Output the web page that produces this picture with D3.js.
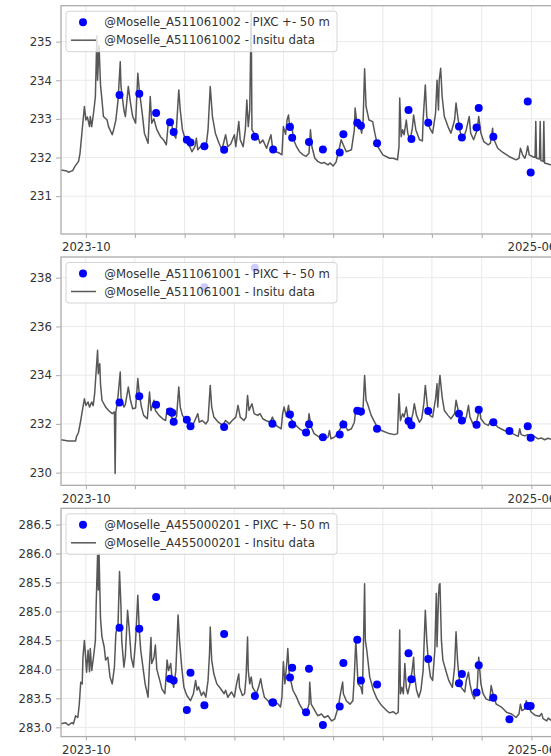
<!DOCTYPE html>
<html>
<head>
<meta charset="utf-8">
<script src="https://cdn.jsdelivr.net/npm/d3@7"></script>
<style>
  html, body { margin: 0; padding: 0; background: #fff; overflow: hidden; }
  svg { display: block; }
  text { font-family: "DejaVu Sans", sans-serif; }
</style>
</head>
<body>
<svg id="chart" width="551" height="756"></svg>
<script>
// ---------------- data ----------------
const stations = ["@Moselle_A511061002", "@Moselle_A511061001", "@Moselle_A455000201"];
const pixcLabel = " - PIXC +- 50 m";
const insituLabel = " - Insitu data";

const xStart = "2023-08-28";
const xEnd = "2025-07-06";
const xTickDates = ["2023-10-01", "2023-12-07", "2024-02-13", "2024-04-21", "2024-06-27",
                    "2024-09-03", "2024-11-10", "2025-01-16", "2025-03-25", "2025-06-01"];
const xTickLabels = ["2023-10", "", "", "", "", "", "", "", "", "2025-06"];

const yTicks1 = [231, 232, 233, 234, 235];
const yTicks2 = [230, 232, 234, 236, 238];
const yTicks3 = [283.0, 283.5, 284.0, 284.5, 285.0, 285.5, 286.0, 286.5];
const yLimits1 = [230.02, 235.93];
const yLimits2 = [229.48, 238.85];
const yLimits3 = [282.84, 286.78];

// in-situ gauge water level (m)
const insitu1 = [
  ["2023-08-28",231.68],["2023-09-05",231.65],["2023-09-07",231.62],["2023-09-13",231.66],
  ["2023-09-16",231.77],["2023-09-21",231.90],["2023-09-23",232.11],["2023-09-26",232.72],
  ["2023-09-29",233.32],["2023-10-01",232.97],["2023-10-03",233.05],["2023-10-06",232.80],
  ["2023-10-07",233.06],["2023-10-09",232.80],["2023-10-12",233.23],["2023-10-14",233.58],
  ["2023-10-16",235.15],["2023-10-17",234.00],["2023-10-19",234.90],["2023-10-21",233.88],
  ["2023-10-23",233.49],["2023-10-25",233.06],["2023-10-30",232.97],["2023-11-01",232.80],
  ["2023-11-06",232.59],["2023-11-08",232.72],["2023-11-11",232.97],["2023-11-14",233.49],
  ["2023-11-17",234.48],["2023-11-18",233.84],["2023-11-22",233.23],["2023-11-24",233.06],
  ["2023-11-28",233.84],["2023-12-01",233.41],["2023-12-04",233.06],["2023-12-08",232.89],
  ["2023-12-11",234.18],["2023-12-13",233.75],["2023-12-17",233.15],["2023-12-20",232.63],
  ["2023-12-25",232.37],["2023-12-28",233.58],["2023-12-30",232.89],["2024-01-02",233.00],
  ["2024-01-06",232.72],["2024-01-11",232.54],["2024-01-15",232.46],["2024-01-19",232.33],
  ["2024-01-22",232.97],["2024-01-26",232.89],["2024-01-29",232.59],["2024-02-01",232.50],
  ["2024-02-05",233.75],["2024-02-07",233.23],["2024-02-10",232.72],["2024-02-14",232.46],
  ["2024-02-19",232.33],["2024-02-23",232.15],["2024-02-27",232.28],["2024-02-29",232.50],
  ["2024-03-02",232.20],["2024-03-08",232.33],["2024-03-13",232.24],["2024-03-16",232.72],
  ["2024-03-19",233.84],["2024-03-22",233.06],["2024-03-26",232.63],["2024-03-31",232.37],
  ["2024-04-04",232.20],["2024-04-09",232.59],["2024-04-12",232.28],["2024-04-16",232.35],
  ["2024-04-21",232.59],["2024-04-23",232.28],["2024-04-27",232.93],["2024-04-29",232.46],
  ["2024-05-03",232.28],["2024-05-06",232.72],["2024-05-08",233.49],["2024-05-10",232.80],
  ["2024-05-12",233.23],["2024-05-14",235.74],["2024-05-15",232.72],["2024-05-19",232.59],
  ["2024-05-23",232.55],["2024-05-26",232.37],["2024-05-30",232.45],["2024-06-04",232.24],
  ["2024-06-10",232.59],["2024-06-12",232.28],["2024-06-17",232.15],["2024-06-22",232.11],
  ["2024-06-25",232.07],["2024-06-27",232.80],["2024-06-30",232.60],["2024-07-02",232.97],
  ["2024-07-04",233.10],["2024-07-06",232.72],["2024-07-08",232.89],["2024-07-11",232.46],
  ["2024-07-15",232.28],["2024-07-19",232.15],["2024-07-24",232.07],["2024-07-28",232.03],
  ["2024-08-01",232.11],["2024-08-03",232.72],["2024-08-05",232.28],["2024-08-09",231.98],
  ["2024-08-13",231.90],["2024-08-18",231.85],["2024-08-22",231.87],["2024-08-27",231.81],
  ["2024-08-30",231.86],["2024-09-03",231.78],["2024-09-07",231.88],["2024-09-11",232.20],
  ["2024-09-14",232.46],["2024-09-18",232.28],["2024-09-21",232.15],["2024-09-28",232.20],
  ["2024-10-02",232.72],["2024-10-03",233.28],["2024-10-06",232.80],["2024-10-08",232.97],
  ["2024-10-12",232.63],["2024-10-14",232.97],["2024-10-16",234.30],["2024-10-18",233.32],
  ["2024-10-22",232.97],["2024-10-27",232.93],["2024-10-30",232.63],["2024-11-03",232.28],
  ["2024-11-10",232.07],["2024-11-19",231.98],["2024-11-24",231.98],["2024-11-30",231.94],
  ["2024-12-02",232.28],["2024-12-03",233.54],["2024-12-05",232.54],["2024-12-07",232.72],
  ["2024-12-09",232.59],["2024-12-12",232.97],["2024-12-14",232.63],["2024-12-17",232.46],
  ["2024-12-20",232.72],["2024-12-22",233.10],["2024-12-25",232.72],["2024-12-30",232.46],
  ["2025-01-03",232.43],["2025-01-04",232.97],["2025-01-07",233.88],["2025-01-09",233.06],
  ["2025-01-13",232.76],["2025-01-17",232.63],["2025-01-21",233.15],["2025-01-23",234.00],
  ["2025-01-25",233.23],["2025-01-26",234.00],["2025-01-28",234.31],["2025-01-30",233.58],
  ["2025-02-02",233.06],["2025-02-07",232.80],["2025-02-11",232.63],["2025-02-16",232.97],
  ["2025-02-18",233.41],["2025-02-21",232.97],["2025-02-24",232.63],["2025-02-28",232.50],
  ["2025-03-04",232.72],["2025-03-08",233.06],["2025-03-10",232.63],["2025-03-14",232.46],
  ["2025-03-19",232.72],["2025-03-21",233.06],["2025-03-24",232.63],["2025-03-28",232.41],
  ["2025-04-03",232.33],["2025-04-06",232.37],["2025-04-09",232.76],["2025-04-10",232.50],
  ["2025-04-16",232.24],["2025-04-23",232.13],["2025-05-02",232.02],["2025-05-11",231.94],
  ["2025-05-15",231.98],["2025-05-17",232.24],["2025-05-20",232.07],["2025-05-23",231.98],
  ["2025-05-25",232.10],["2025-05-27",232.30],["2025-05-29",232.07],["2025-06-03",232.02],
  ["2025-06-06",232.00],["2025-06-07",232.93],["2025-06-08",231.98],["2025-06-12",231.96],
  ["2025-06-13",232.93],["2025-06-14",231.92],["2025-06-17",231.90],["2025-06-18",232.93],
  ["2025-06-19",231.86],["2025-06-23",231.84],["2025-06-27",231.81],["2025-07-01",231.84],
  ["2025-07-06",231.82]
];

const insitu2 = [
  ["2023-08-28",231.35],["2023-09-07",231.30],["2023-09-17",231.30],["2023-09-18",231.46],
  ["2023-09-21",231.66],["2023-09-24",232.14],["2023-09-27",232.69],["2023-09-29",233.03],
  ["2023-10-01",232.76],["2023-10-04",232.90],["2023-10-06",232.69],["2023-10-09",232.90],
  ["2023-10-11",232.75],["2023-10-13",233.24],["2023-10-17",235.02],["2023-10-18",234.06],
  ["2023-10-20",234.47],["2023-10-21",233.65],["2023-10-23",232.97],["2023-10-28",232.69],
  ["2023-11-01",232.55],["2023-11-06",232.42],["2023-11-09",232.49],["2023-11-10",229.96],
  ["2023-11-11",232.50],["2023-11-13",232.83],["2023-11-17",234.13],["2023-11-18",233.10],
  ["2023-11-22",232.69],["2023-11-24",232.80],["2023-11-28",233.51],["2023-12-01",232.97],
  ["2023-12-04",232.62],["2023-12-08",232.65],["2023-12-11",233.86],["2023-12-13",233.24],
  ["2023-12-16",232.69],["2023-12-19",232.35],["2023-12-24",232.21],["2023-12-27",233.31],
  ["2023-12-29",232.55],["2024-01-02",232.97],["2024-01-04",232.55],["2024-01-09",232.35],
  ["2024-01-14",232.21],["2024-01-18",232.14],["2024-01-20",232.62],["2024-01-25",232.35],
  ["2024-01-29",232.14],["2024-02-02",232.30],["2024-02-05",233.51],["2024-02-07",232.69],
  ["2024-02-10",232.35],["2024-02-15",232.14],["2024-02-19",232.00],["2024-02-24",231.94],
  ["2024-02-27",232.14],["2024-03-02",232.42],["2024-03-04",232.07],["2024-03-08",232.14],
  ["2024-03-13",232.00],["2024-03-16",232.14],["2024-03-19",233.58],["2024-03-21",232.69],
  ["2024-03-24",232.28],["2024-03-30",232.07],["2024-04-05",231.94],["2024-04-09",232.14],
  ["2024-04-14",232.00],["2024-04-18",232.14],["2024-04-23",232.28],["2024-04-26",232.76],
  ["2024-04-29",232.28],["2024-05-04",232.14],["2024-05-07",232.28],["2024-05-09",233.17],
  ["2024-05-11",232.55],["2024-05-15",232.83],["2024-05-18",232.42],["2024-05-23",232.35],
  ["2024-05-26",232.42],["2024-05-30",232.21],["2024-06-03",232.14],["2024-06-09",232.07],
  ["2024-06-12",232.28],["2024-06-17",231.94],["2024-06-24",231.80],["2024-06-26",232.42],
  ["2024-06-28",232.69],["2024-07-01",232.30],["2024-07-04",232.76],["2024-07-06",232.30],
  ["2024-07-10",232.07],["2024-07-14",231.94],["2024-07-19",231.80],["2024-07-26",231.66],
  ["2024-07-30",231.73],["2024-08-01",232.42],["2024-08-04",231.87],["2024-08-08",231.60],
  ["2024-08-15",231.46],["2024-08-22",231.39],["2024-08-27",231.46],["2024-08-29",231.73],
  ["2024-08-31",231.39],["2024-09-05",231.46],["2024-09-09",231.60],["2024-09-14",231.87],
  ["2024-09-16",232.14],["2024-09-19",231.94],["2024-09-23",231.73],["2024-09-28",231.80],
  ["2024-10-02",232.07],["2024-10-04",232.62],["2024-10-07",232.42],["2024-10-09",232.62],
  ["2024-10-11",232.35],["2024-10-14",232.69],["2024-10-16",233.99],["2024-10-18",232.97],
  ["2024-10-20",232.83],["2024-10-25",232.35],["2024-11-01",231.94],["2024-11-08",231.73],
  ["2024-11-17",231.62],["2024-11-26",231.56],["2024-11-30",231.60],["2024-12-02",233.24],
  ["2024-12-04",232.14],["2024-12-07",232.42],["2024-12-09",232.28],["2024-12-12",232.69],
  ["2024-12-14",232.28],["2024-12-18",232.07],["2024-12-21",232.42],["2024-12-23",232.83],
  ["2024-12-26",232.35],["2024-12-30",232.07],["2025-01-02",232.21],["2025-01-05",232.83],
  ["2025-01-07",233.58],["2025-01-10",232.69],["2025-01-13",232.35],["2025-01-17",232.28],
  ["2025-01-21",233.03],["2025-01-23",233.65],["2025-01-24",232.69],["2025-01-26",233.65],
  ["2025-01-27",233.99],["2025-01-30",233.10],["2025-02-02",232.55],["2025-02-07",232.35],
  ["2025-02-11",232.21],["2025-02-16",232.42],["2025-02-18",232.97],["2025-02-21",232.55],
  ["2025-02-24",232.21],["2025-03-01",232.07],["2025-03-04",232.28],["2025-03-07",232.76],
  ["2025-03-09",232.28],["2025-03-13",232.01],["2025-03-18",232.07],["2025-03-22",232.62],
  ["2025-03-24",232.21],["2025-03-29",232.01],["2025-04-03",231.94],["2025-04-07",232.14],
  ["2025-04-10",232.07],["2025-04-16",231.87],["2025-04-25",231.73],["2025-05-05",231.62],
  ["2025-05-14",231.49],["2025-05-16",231.80],["2025-05-18",231.56],["2025-05-23",231.51],
  ["2025-05-27",231.56],["2025-06-01",231.46],["2025-06-05",231.49],["2025-06-10",231.39],
  ["2025-06-15",231.42],["2025-06-19",231.35],["2025-06-24",231.41],["2025-06-30",231.35],
  ["2025-07-06",231.36]
];

const insitu3 = [
  ["2023-08-28",283.06],["2023-09-03",283.08],["2023-09-07",283.04],["2023-09-12",283.08],
  ["2023-09-14",283.06],["2023-09-17",283.20],["2023-09-20",283.17],["2023-09-22",283.40],
  ["2023-09-24",283.78],["2023-09-26",283.75],["2023-09-27",284.21],["2023-09-29",284.50],
  ["2023-09-30",284.33],["2023-10-02",283.95],["2023-10-04",284.33],["2023-10-06",283.96],
  ["2023-10-07",284.36],["2023-10-09",283.98],["2023-10-12",284.27],["2023-10-14",284.50],
  ["2023-10-15",285.08],["2023-10-17",285.98],["2023-10-18",285.37],["2023-10-19",286.00],
  ["2023-10-21",284.88],["2023-10-23",284.56],["2023-10-26",284.39],["2023-10-28",284.16],
  ["2023-10-31",284.21],["2023-11-03",283.87],["2023-11-06",283.75],["2023-11-09",284.04],
  ["2023-11-11",284.62],["2023-11-14",284.79],["2023-11-16",285.69],["2023-11-18",285.08],
  ["2023-11-19",284.50],["2023-11-22",284.04],["2023-11-24",284.24],["2023-11-27",285.02],
  ["2023-11-29",284.73],["2023-12-02",284.21],["2023-12-05",284.04],["2023-12-08",284.50],
  ["2023-12-11",285.28],["2023-12-13",284.68],["2023-12-15",284.33],["2023-12-18",284.04],
  ["2023-12-21",283.75],["2023-12-25",283.52],["2023-12-27",284.10],["2023-12-29",284.55],
  ["2023-12-30",284.10],["2024-01-02",284.20],["2024-01-04",284.42],["2024-01-06",284.00],
  ["2024-01-10",283.81],["2024-01-13",283.66],["2024-01-17",283.58],["2024-01-19",283.95],
  ["2024-01-20",284.16],["2024-01-22",283.98],["2024-01-25",284.10],["2024-01-27",283.81],
  ["2024-01-29",283.69],["2024-02-01",283.98],["2024-02-04",284.94],["2024-02-06",284.50],
  ["2024-02-09",284.04],["2024-02-12",283.69],["2024-02-16",283.55],["2024-02-21",283.46],
  ["2024-02-25",283.58],["2024-02-28",283.81],["2024-03-01",283.64],["2024-03-03",283.70],
  ["2024-03-07",283.55],["2024-03-10",283.61],["2024-03-13",283.52],["2024-03-16",283.81],
  ["2024-03-18",284.27],["2024-03-19",284.73],["2024-03-21",284.16],["2024-03-24",283.92],
  ["2024-03-28",283.75],["2024-04-02",283.67],["2024-04-07",283.58],["2024-04-09",283.64],
  ["2024-04-12",283.52],["2024-04-17",283.61],["2024-04-21",283.52],["2024-04-24",283.75],
  ["2024-04-27",283.92],["2024-04-28",283.69],["2024-05-02",283.55],["2024-05-05",283.58],
  ["2024-05-07",283.87],["2024-05-09",284.56],["2024-05-10",283.98],["2024-05-12",283.75],
  ["2024-05-14",283.87],["2024-05-16",283.69],["2024-05-21",283.58],["2024-05-24",283.69],
  ["2024-05-27",283.84],["2024-05-29",283.69],["2024-06-01",283.52],["2024-06-06",283.46],
  ["2024-06-10",283.40],["2024-06-15",283.43],["2024-06-20",283.40],["2024-06-23",283.35],
  ["2024-06-25",283.52],["2024-06-27",284.13],["2024-06-29",283.75],["2024-07-02",284.16],
  ["2024-07-03",284.36],["2024-07-05",283.92],["2024-07-07",283.81],["2024-07-10",283.64],
  ["2024-07-15",283.52],["2024-07-19",283.40],["2024-07-24",283.29],["2024-07-28",283.23],
  ["2024-08-01",283.40],["2024-08-02",283.78],["2024-08-04",283.40],["2024-08-09",283.29],
  ["2024-08-13",283.20],["2024-08-18",283.23],["2024-08-22",283.17],["2024-08-27",283.20],
  ["2024-09-01",283.11],["2024-09-05",283.14],["2024-09-10",283.35],["2024-09-13",283.58],
  ["2024-09-16",283.78],["2024-09-17",283.58],["2024-09-21",283.46],["2024-09-26",283.40],
  ["2024-09-30",283.46],["2024-10-02",283.90],["2024-10-04",284.50],["2024-10-06",284.00],
  ["2024-10-07",283.75],["2024-10-11",283.69],["2024-10-13",283.58],["2024-10-15",284.79],
  ["2024-10-16",285.48],["2024-10-17",284.50],["2024-10-19",284.33],["2024-10-23",283.87],
  ["2024-10-28",283.64],["2024-11-02",283.49],["2024-11-08",283.38],["2024-11-15",283.29],
  ["2024-11-19",283.25],["2024-11-24",283.27],["2024-11-28",283.23],["2024-12-01",283.26],
  ["2024-12-03",284.68],["2024-12-04",283.58],["2024-12-06",283.69],["2024-12-08",283.58],
  ["2024-12-10",284.10],["2024-12-12",283.69],["2024-12-14",283.58],["2024-12-17",283.75],
  ["2024-12-20",283.98],["2024-12-22",284.21],["2024-12-23",283.92],["2024-12-26",283.64],
  ["2024-12-29",283.52],["2025-01-01",283.64],["2025-01-04",283.98],["2025-01-05",284.33],
  ["2025-01-07",285.02],["2025-01-09",284.50],["2025-01-11",284.16],["2025-01-14",283.87],
  ["2025-01-17",283.81],["2025-01-20",284.33],["2025-01-22",285.31],["2025-01-23",284.39],
  ["2025-01-25",285.25],["2025-01-26",285.46],["2025-01-27",285.48],["2025-01-29",284.50],
  ["2025-01-31",284.16],["2025-02-04",283.98],["2025-02-08",283.81],["2025-02-13",283.69],
  ["2025-02-16",284.04],["2025-02-18",284.65],["2025-02-20",284.16],["2025-02-22",283.87],
  ["2025-02-25",283.69],["2025-03-02",283.61],["2025-03-04",283.81],["2025-03-07",283.95],
  ["2025-03-09",283.75],["2025-03-12",283.58],["2025-03-15",283.49],["2025-03-19",283.69],
  ["2025-03-21",284.21],["2025-03-24",283.75],["2025-03-27",283.58],["2025-03-31",283.49],
  ["2025-04-05",283.46],["2025-04-07",283.72],["2025-04-10",283.55],["2025-04-14",283.40],
  ["2025-04-21",283.35],["2025-04-28",283.26],["2025-05-05",283.23],["2025-05-11",283.17],
  ["2025-05-15",283.23],["2025-05-17",283.40],["2025-05-19",283.29],["2025-05-23",283.32],
  ["2025-05-25",283.46],["2025-05-28",283.35],["2025-06-01",283.26],["2025-06-06",283.21],
  ["2025-06-12",283.19],["2025-06-15",283.24],["2025-06-17",283.15],["2025-06-22",283.11],
  ["2025-06-24",283.16],["2025-06-30",283.10],["2025-07-06",283.09]
];

// PIXC water surface elevation within 50 m of the gauge (m)
const pixc1 = [
  ["2023-11-16",233.62],["2023-12-13",233.65],["2024-01-05",233.15],["2024-01-24",232.91],
  ["2024-01-29",232.66],["2024-02-16",232.46],["2024-02-21",232.39],["2024-03-11",232.29],
  ["2024-04-07",232.20],["2024-05-19",232.54],["2024-06-13",232.21],["2024-07-06",232.79],
  ["2024-07-09",232.51],["2024-08-01",232.40],["2024-08-20",232.21],["2024-09-12",232.13],
  ["2024-09-17",232.60],["2024-10-06",232.90],["2024-10-11",232.82],["2024-11-02",232.37],
  ["2024-12-15",233.23],["2024-12-19",232.48],["2025-01-11",232.90],["2025-02-22",232.80],
  ["2025-02-26",232.52],["2025-03-18",232.78],["2025-03-21",233.28],["2025-04-10",232.54],
  ["2025-05-27",233.45],["2025-05-31",231.61]
];

const pixc2 = [
  ["2023-11-16",232.88],["2023-12-13",233.13],["2024-01-05",232.79],["2024-01-24",232.51],
  ["2024-01-27",232.46],["2024-01-29",232.09],["2024-02-16",232.17],["2024-02-21",231.90],
  ["2024-03-11",237.61],["2024-04-07",231.87],["2024-05-19",238.41],["2024-06-12",232.01],
  ["2024-07-06",232.39],["2024-07-09",231.98],["2024-07-28",231.65],["2024-08-01",231.99],
  ["2024-08-20",231.45],["2024-09-12",231.56],["2024-09-17",231.98],["2024-10-06",232.54],
  ["2024-10-11",232.51],["2024-11-02",231.80],["2024-12-15",232.12],["2024-12-19",231.94],
  ["2025-01-11",232.53],["2025-02-22",232.42],["2025-02-26",232.14],["2025-03-18",231.97],
  ["2025-03-21",232.58],["2025-04-10",232.07],["2025-05-02",231.71],["2025-05-27",231.90],
  ["2025-05-31",231.43]
];

const pixc3 = [
  ["2023-11-16",284.72],["2023-12-13",284.70],["2024-01-05",285.25],["2024-01-24",283.84],
  ["2024-01-29",283.81],["2024-02-16",283.30],["2024-02-21",283.94],["2024-03-11",283.38],
  ["2024-04-07",284.61],["2024-05-19",283.54],["2024-06-12",283.43],["2024-06-13",283.43],
  ["2024-07-06",283.86],["2024-07-09",284.03],["2024-07-28",283.26],["2024-08-01",284.01],
  ["2024-08-20",283.04],["2024-09-12",283.36],["2024-09-17",284.11],["2024-10-06",284.51],
  ["2024-10-11",283.81],["2024-11-02",283.74],["2024-12-15",284.28],["2024-12-19",283.83],
  ["2025-01-11",284.18],["2025-02-22",283.76],["2025-02-26",283.92],["2025-03-18",283.60],
  ["2025-03-21",284.07],["2025-04-10",283.51],["2025-05-02",283.14],["2025-05-27",283.37],
  ["2025-05-31",283.37]
];

// ---------------- drawing ----------------
const parse = d3.utcParse("%Y-%m-%d");

const panels = [
  { name: stations[0], insitu: insitu1, pixc: pixc1, ticks: yTicks1, limits: yLimits1, fmt: d3.format("d") },
  { name: stations[1], insitu: insitu2, pixc: pixc2, ticks: yTicks2, limits: yLimits2, fmt: d3.format("d") },
  { name: stations[2], insitu: insitu3, pixc: pixc3, ticks: yTicks3, limits: yLimits3, fmt: d3.format(".1f") }
];

const svg = d3.select("#chart");
const left = 61, right = 557, firstTop = 5.7, step = 251.3, plotH = 228.3;
const fontSize = 11.7;
const frameColor = "#ababab";
const gridColor = "#e9e9e9";
const textColor = "#333";
const lineColor = "#3a3a3a";

const x = d3.scaleUtc()
  .domain([parse(xStart), parse(xEnd)])
  .range([left, right]);

panels.forEach((p, i) => {
  const top = firstTop + i * step;
  const bottom = top + plotH;
  const y = d3.scaleLinear().domain(p.limits).range([bottom, top]);

  const g = svg.append("g");

  // clip to the axes box
  const clipId = "clip" + i;
  svg.append("defs").append("clipPath").attr("id", clipId)
    .append("rect").attr("x", left).attr("y", top).attr("width", right - left).attr("height", plotH);

  // grid
  const grid = g.append("g");
  grid.selectAll("line.gx").data(xTickDates).join("line")
    .attr("x1", d => x(parse(d))).attr("x2", d => x(parse(d)))
    .attr("y1", top).attr("y2", bottom)
    .attr("stroke", gridColor).attr("stroke-width", 1);
  grid.selectAll("line.gy").data(p.ticks).join("line")
    .attr("x1", left).attr("x2", right)
    .attr("y1", d => y(d)).attr("y2", d => y(d))
    .attr("stroke", gridColor).attr("stroke-width", 1);

  const plot = g.append("g").attr("clip-path", `url(#${clipId})`);

  // in-situ series
  const line = d3.line()
    .x(d => x(parse(d[0])))
    .y(d => y(d[1]));
  plot.append("path")
    .datum(p.insitu)
    .attr("d", line)
    .attr("fill", "none")
    .attr("stroke", lineColor)
    .attr("stroke-opacity", 0.85)
    .attr("stroke-width", 1.5)
    .attr("stroke-linejoin", "round");

  // PIXC points
  plot.selectAll("circle").data(p.pixc).join("circle")
    .attr("cx", d => x(parse(d[0])))
    .attr("cy", d => y(d[1]))
    .attr("r", 4)
    .attr("fill", "#0000ff");

  // frame
  g.append("rect")
    .attr("x", left).attr("y", top)
    .attr("width", right - left).attr("height", plotH)
    .attr("fill", "none").attr("stroke", frameColor).attr("stroke-width", 1.3);

  // y axis
  const yAxis = g.append("g")
    .attr("transform", `translate(${left},0)`)
    .call(d3.axisLeft(y).tickValues(p.ticks).tickFormat(p.fmt).tickSize(5).tickPadding(4));
  yAxis.select(".domain").remove();
  yAxis.selectAll(".tick line").attr("stroke", frameColor);
  yAxis.selectAll(".tick text")
    .attr("fill", textColor).style("font-size", fontSize + "px")
    .style("font-family", "'DejaVu Sans', sans-serif");

  // x axis
  const xAxis = g.append("g")
    .attr("transform", `translate(0,${bottom})`)
    .call(d3.axisBottom(x)
      .tickValues(xTickDates.map(parse))
      .tickFormat((d, k) => xTickLabels[k])
      .tickSize(4).tickPadding(5));
  xAxis.select(".domain").remove();
  xAxis.selectAll(".tick line").attr("stroke", frameColor);
  xAxis.selectAll(".tick text")
    .attr("fill", textColor).style("font-size", fontSize + "px")
    .style("font-family", "'DejaVu Sans', sans-serif");

  // legend
  const lg = g.append("g");
  lg.append("rect")
    .attr("x", 66).attr("y", top + 5.5)
    .attr("width", 271).attr("height", 40.5)
    .attr("rx", 3).attr("ry", 3)
    .attr("fill", "#fff").attr("fill-opacity", 0.8)
    .attr("stroke", "#d4d4d4").attr("stroke-width", 1);
  lg.append("circle")
    .attr("cx", 83).attr("cy", top + 16.5).attr("r", 4).attr("fill", "#0000ff");
  lg.append("line")
    .attr("x1", 71).attr("x2", 96)
    .attr("y1", top + 34.5).attr("y2", top + 34.5)
    .attr("stroke", lineColor).attr("stroke-opacity", 0.85).attr("stroke-width", 1.5);
  lg.append("text")
    .attr("x", 104.3).attr("y", top + 20.7)
    .attr("fill", textColor).style("font-size", fontSize + "px")
    .text(p.name + pixcLabel);
  lg.append("text")
    .attr("x", 104.3).attr("y", top + 38.7)
    .attr("fill", textColor).style("font-size", fontSize + "px")
    .text(p.name + insituLabel);
});
</script>
</body>
</html>
